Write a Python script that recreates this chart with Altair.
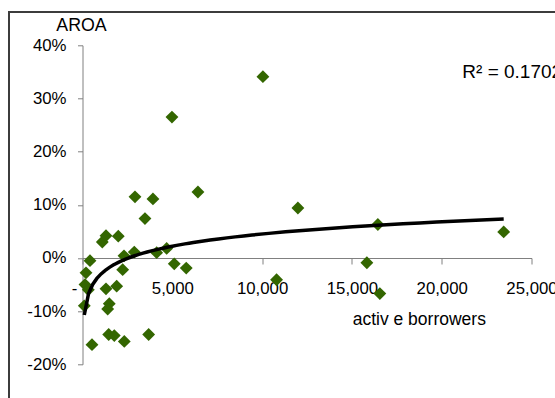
import altair as alt
import pandas as pd

# Active borrowers per institution and adjusted return on assets (%)
borrowers = [10045, 4981, 6427, 2922, 3923, 3478, 11993, 16445, 23452, 15833,
             16556, 10806, 5109, 5776, 1993, 1102, 1308, 417, 2310, 2883,
             4129, 4686, 2237, 195, 139, 1308, 1903, 100, 1491, 1402,
             1458, 1770, 2326, 528, 3684, 323]
aroa = [34.1, 26.5, 12.4, 11.5, 11.1, 7.4, 9.4, 6.3, 4.9, -0.9,
        -6.7, -4.1, -1.1, -1.9, 4.1, 3.0, 4.2, -0.5, 0.4, 1.1,
        1.0, 1.8, -2.2, -2.8, -5.0, -5.8, -5.3, -9.0, -8.6, -9.6,
        -14.4, -14.6, -15.7, -16.3, -14.4, -6.0]

x_ticks = [0, 5000, 10000, 15000, 20000, 25000]
y_ticks = [-20, -10, 0, 10, 20, 30, 40]
r_squared = 0.1702

df = pd.DataFrame({"borrowers": borrowers, "aroa": aroa})

FONT = "Liberation Sans"
W, H = 449, 319

x_scale = alt.Scale(domain=[0, 25000], nice=False)
y_scale = alt.Scale(domain=[-20, 40], nice=False)

x_axis = alt.Axis(
    values=x_ticks, grid=False, offset=-106.3, labelFlush=False,
    # zero is shown as a dash, set a little left of the axis origin
    labelExpr="datum.value === 0 ? '-' : format(datum.value, ',')",
    labelOffset={"condition": {"test": "datum.value === 0", "value": -8.5}, "value": 0},
    labelFont=FONT, labelFontSize=16.8, labelColor="black", labelPadding=16,
    tickSize=6, tickColor="#808080", domainColor="#808080",
    title="activ e borrowers", titleFont=FONT, titleFontSize=17.5,
    titleFontWeight="normal", titleColor="black",
    titleX=336.3, titleY=66.7, titleAlign="center", titleBaseline="alphabetic",
)
y_axis = alt.Axis(
    values=y_ticks, grid=False, labelFlush=False,
    labelExpr="datum.value + '%'",
    labelFont=FONT, labelFontSize=16.8, labelColor="black", labelPadding=11.5,
    tickSize=5, tickColor="#808080", domainColor="#808080",
    title="AROA", titleFont=FONT, titleFontSize=17.8,
    titleFontWeight="normal", titleColor="black", titleAngle=0,
    titleX=-1.5, titleY=-15.3, titleAlign="center", titleBaseline="alphabetic",
)

base = alt.Chart(df)

points = base.mark_point(
    shape="diamond", filled=True, size=165, color="#336600", opacity=1
).encode(
    x=alt.X("borrowers:Q", scale=x_scale, axis=x_axis),
    y=alt.Y("aroa:Q", scale=y_scale, axis=y_axis),
)

trend = base.transform_regression(
    "borrowers", "aroa", method="log"
).mark_line(color="black", strokeWidth=3.5).encode(
    x=alt.X("borrowers:Q", scale=x_scale),
    y=alt.Y("aroa:Q", scale=y_scale),
)

r2_label = alt.Chart(pd.DataFrame({"label": [f"R\u00b2 = {r_squared:.4f}"]})).mark_text(
    font=FONT, fontSize=19, color="black", align="left", baseline="alphabetic"
).encode(
    text="label:N", x=alt.value(379.8), y=alt.value(32.4)
)

# chart-area border; its right and bottom edges fall outside the view
frame = alt.Chart().mark_rect(
    fillOpacity=0, stroke="#3c3c3c", strokeWidth=2
).encode(
    x=alt.value(-73.5), x2=alt.value(600), y=alt.value(-33.3), y2=alt.value(500)
)

chart = alt.layer(frame, points, trend, r2_label).properties(
    width=W, height=H,
    padding={"left": 82.5, "top": 45.3, "right": 23.5, "bottom": 33.7},
    autosize=alt.AutoSizeParams(type="none"),
    background="white",
).configure_view(stroke=None)

chart.save("out.html", embed_options={"renderer": "svg", "actions": False})
